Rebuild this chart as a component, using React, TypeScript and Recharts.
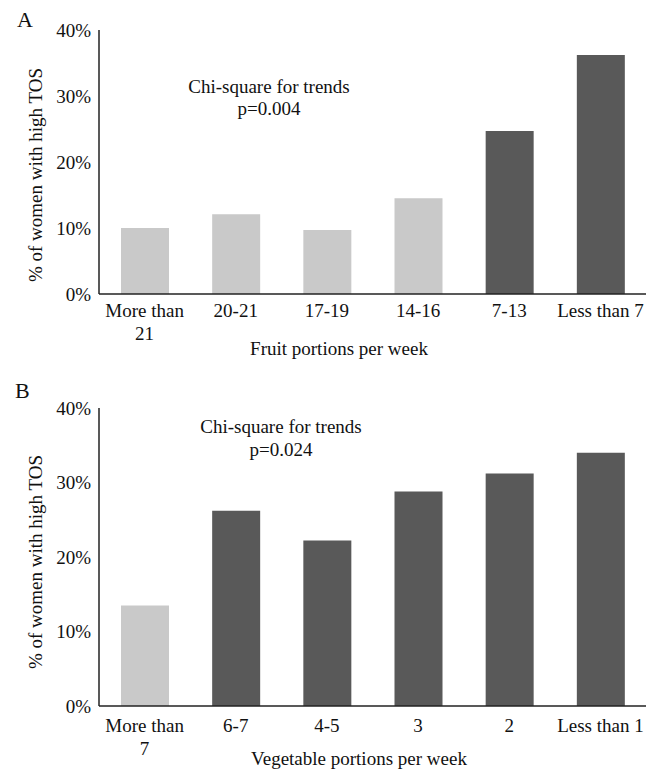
import React from "react";
import { BarChart, Bar, XAxis, YAxis, Cell } from "recharts";

const fruitCategories = ["More than\n21", "20-21", "17-19", "14-16", "7-13", "Less than 7"];
const fruitValues = [10.0, 12.1, 9.7, 14.5, 24.7, 36.2];
const fruitElevated = [false, false, false, false, true, true];

const vegCategories = ["More than\n7", "6-7", "4-5", "3", "2", "Less than 1"];
const vegValues = [13.5, 26.2, 22.2, 28.8, 31.2, 34.0];
const vegElevated = [false, true, true, true, true, true];

const yTicks = [0, 10, 20, 30, 40];

const FONT = "'Liberation Serif', 'Times New Roman', serif";
const LIGHT = "#c9c9c9";
const DARK = "#595959";
const TEXT = "#111";

const fruitData = fruitCategories.map((name, i) => ({ name, value: fruitValues[i], hi: fruitElevated[i] }));
const vegData = vegCategories.map((name, i) => ({ name, value: vegValues[i], hi: vegElevated[i] }));

function makeTick(firstDy: number) {
  return (props: any) => {
    const { x, y, payload } = props;
    const lines = String(payload.value).split("\n");
    return (
      <text x={x} y={y} textAnchor="middle" fontFamily={FONT} fontSize={19} fill={TEXT}>
        {lines.map((l, i) => (
          <tspan key={i} x={x} dy={i === 0 ? firstDy : 23}>
            {l}
          </tspan>
        ))}
      </text>
    );
  };
}

const FruitTick = makeTick(22.5);
const VegTick = makeTick(25.5);

function Panel(props: {
  data: { name: string; value: number; hi: boolean }[];
  height: number;
  top: number;
  xHeight: number;
  tick: any;
}) {
  const { data, height, top, xHeight, tick } = props;
  return (
    <BarChart width={658} height={height} data={data} margin={{ top, right: 12, bottom: 0, left: 0 }}>
      <XAxis
        dataKey="name"
        interval={0}
        tickLine={false}
        tickSize={0}
        tickMargin={0}
        height={xHeight}
        axisLine={{ stroke: "#222", strokeWidth: 1.5 }}
        tick={tick}
      />
      <YAxis
        width={99}
        domain={[0, 40]}
        ticks={yTicks}
        interval={0}
        tickFormatter={(v: number) => `${v}%`}
        tickLine={false}
        axisLine={{ stroke: "#222", strokeWidth: 1.5 }}
        tick={{ fontSize: 19, fill: TEXT, fontFamily: FONT }}
      />
      <Bar dataKey="value" barSize={48} isAnimationActive={false}>
        {data.map((d, i) => (
          <Cell key={i} fill={d.hi ? DARK : LIGHT} />
        ))}
      </Bar>
    </BarChart>
  );
}

export default function App() {
  return (
    <div style={{ position: "absolute", left: 0, top: 0, width: 658, height: 773, background: "#fff" }}>
      <div style={{ position: "absolute", left: 0, top: 0 }}>
        <Panel data={fruitData} height={380} top={30} xHeight={86} tick={FruitTick} />
      </div>
      <div style={{ position: "absolute", left: 0, top: 380 }}>
        <Panel data={vegData} height={393} top={28} xHeight={67} tick={VegTick} />
      </div>
      <svg
        width={658}
        height={773}
        style={{ position: "absolute", left: 0, top: 0, pointerEvents: "none" }}
        fontFamily={FONT}
        fill={TEXT}
      >
        <text x={17} y={27} fontSize={22}>A</text>
        <text x={15} y={398} fontSize={22}>B</text>

        <text x={269} y={93} fontSize={19} textAnchor="middle">Chi-square for trends</text>
        <text x={269} y={115} fontSize={19} textAnchor="middle">p=0.004</text>

        <text x={281} y={433} fontSize={19} textAnchor="middle">Chi-square for trends</text>
        <text x={281} y={456} fontSize={19} textAnchor="middle">p=0.024</text>

        <text x={339} y={355} fontSize={19} textAnchor="middle">Fruit portions per week</text>
        <text x={359} y={765} fontSize={19} textAnchor="middle">Vegetable portions per week</text>

        <text transform="translate(42,175) rotate(-90)" fontSize={19} textAnchor="middle">% of women with high TOS</text>
        <text transform="translate(42,562) rotate(-90)" fontSize={19} textAnchor="middle">% of women with high TOS</text>
      </svg>
    </div>
  );
}
